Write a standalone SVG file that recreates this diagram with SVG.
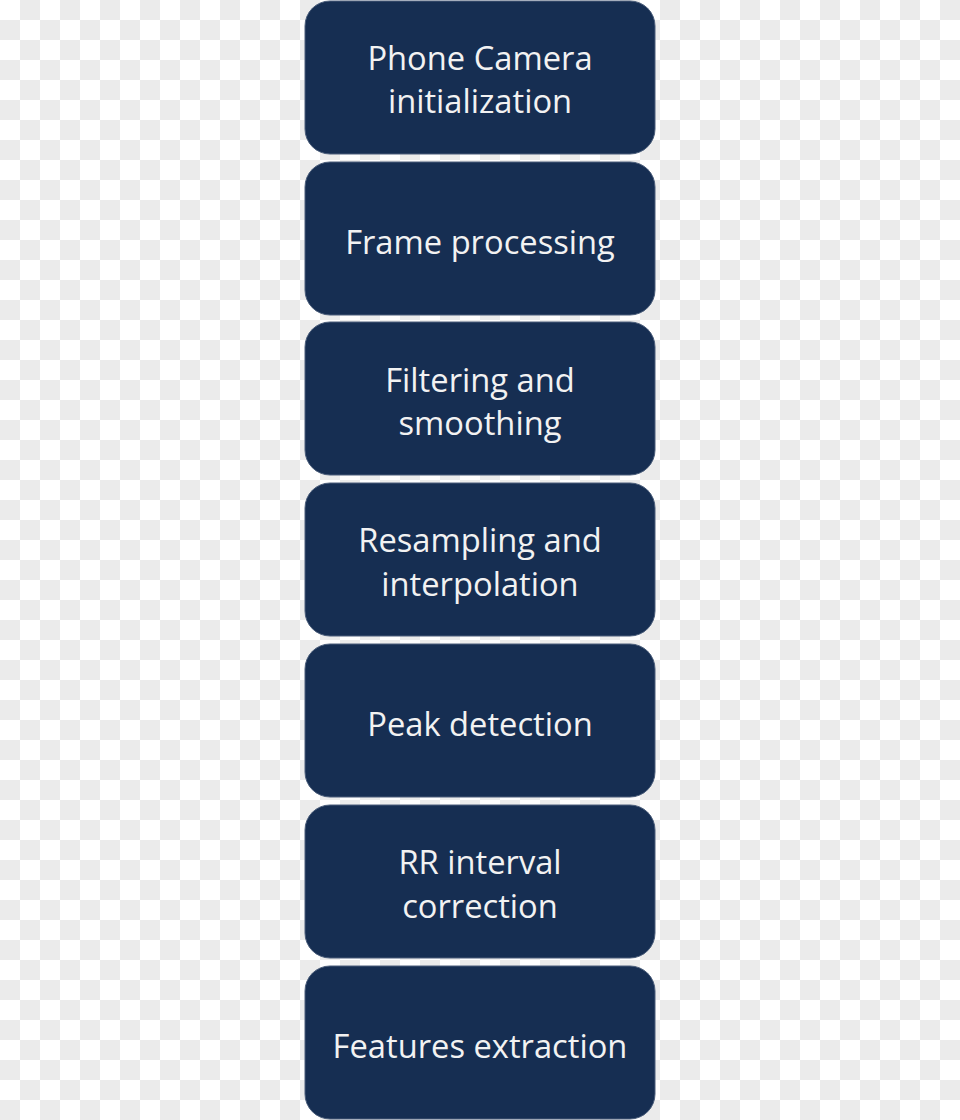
<svg xmlns="http://www.w3.org/2000/svg" width="960" height="1120" viewBox="0 0 960 1120">
  <defs>
    <pattern id="checker" x="0" y="0" width="40" height="40" patternUnits="userSpaceOnUse">
      <rect x="0" y="0" width="40" height="40" fill="#ffffff"/>
      <rect x="20" y="0" width="20" height="20" fill="#ebebeb"/>
      <rect x="0" y="20" width="20" height="20" fill="#ebebeb"/>
    </pattern>
    <style>
      .box { fill: #162e52; stroke: #4a5d7a; stroke-width: 1; }
      .lbl { font-family: "Open Sans", "Noto Sans", sans-serif; font-size: 32.7px; fill: #f2f2f2; text-anchor: middle; }
    </style>
  </defs>
  <rect x="0" y="0" width="960" height="1120" fill="url(#checker)"/>
  <g id="connectors"/>
  <g id="node1">
    <rect class="box" x="305" y="1" width="350" height="153" rx="25" ry="25"/>
    <text class="lbl" x="480" y="70">Phone Camera</text>
    <text class="lbl" x="480" y="113">initialization</text>
  </g>
  <g id="node2">
    <rect class="box" x="305" y="162" width="350" height="153" rx="25" ry="25"/>
    <text class="lbl" x="480" y="254">Frame processing</text>
  </g>
  <g id="node3">
    <rect class="box" x="305" y="322" width="350" height="153" rx="25" ry="25"/>
    <text class="lbl" x="480" y="392">Filtering and</text>
    <text class="lbl" x="480" y="435">smoothing</text>
  </g>
  <g id="node4">
    <rect class="box" x="305" y="483" width="350" height="153" rx="25" ry="25"/>
    <text class="lbl" x="480" y="552">Resampling and</text>
    <text class="lbl" x="480" y="596">interpolation</text>
  </g>
  <g id="node5">
    <rect class="box" x="305" y="644" width="350" height="153" rx="25" ry="25"/>
    <text class="lbl" x="480" y="736">Peak detection</text>
  </g>
  <g id="node6">
    <rect class="box" x="305" y="805" width="350" height="153" rx="25" ry="25"/>
    <text class="lbl" x="480" y="874">RR interval</text>
    <text class="lbl" x="480" y="918">correction</text>
  </g>
  <g id="node7">
    <rect class="box" x="305" y="966" width="350" height="153" rx="25" ry="25"/>
    <text class="lbl" x="480" y="1058">Features extraction</text>
  </g>
</svg>
